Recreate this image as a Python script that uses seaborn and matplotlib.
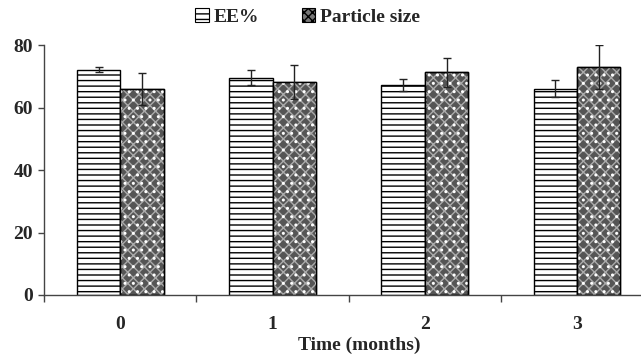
import matplotlib
matplotlib.use("Agg")
import matplotlib.pyplot as plt
import seaborn as sns
import pandas as pd
from matplotlib.patches import Patch, Rectangle

months = ["0", "1", "2", "3"]
series = ["EE%", "Particle size"]
ee_values = [72.1, 69.6, 67.3, 66.0]
ee_errors = [0.8, 2.3, 2.0, 2.7]
ps_values = [66.0, 68.1, 71.3, 73.0]
ps_errors = [5.2, 5.5, 4.7, 7.1]
y_ticks = [0, 20, 40, 60, 80]

df = pd.DataFrame({
    "Time": months * 2,
    "Series": [series[0]] * 4 + [series[1]] * 4,
    "Value": ee_values + ps_values,
})

sns.set_style("white")
plt.rcParams["font.family"] = ["Liberation Serif", "DejaVu Serif"]
plt.rcParams["hatch.linewidth"] = 1.0

FS = 14.0
fig = plt.figure(figsize=(6.41, 3.58), dpi=100)
ax = fig.add_axes([0.069, 0.176, 0.931, 0.698])

sns.barplot(data=df, x="Time", y="Value", hue="Series", order=months,
            hue_order=series, errorbar=None, width=0.57, ax=ax,
            palette=["white", "#555555"], legend=False, saturation=1)

errs = [ee_errors, ps_errors]
vals = [ee_values, ps_values]
bars = list(ax.patches)
for s in range(2):
    for i in range(4):
        p = bars[s * 4 + i]
        p.set_edgecolor("black")
        p.set_linewidth(1.0)
        if s == 0:
            p.set_hatch("---")
            p.set_facecolor("white")
        else:
            p.set_facecolor("#555555")
            ov = Rectangle((p.get_x(), p.get_y()), p.get_width(), p.get_height(),
                           fill=False, hatch="xxx", edgecolor="#aaaaaa",
                           linewidth=0, zorder=p.get_zorder() + 0.1)
            ax.add_patch(ov)
            ov3 = Rectangle((p.get_x(), p.get_y()), p.get_width(), p.get_height(),
                            fill=False, hatch="..", edgecolor="white",
                            linewidth=0, zorder=p.get_zorder() + 0.15)
            ax.add_patch(ov3)
            ov2 = Rectangle((p.get_x(), p.get_y()), p.get_width(), p.get_height(),
                            fill=False, edgecolor="black", linewidth=1.0,
                            zorder=p.get_zorder() + 0.2)
            ax.add_patch(ov2)
        cx = p.get_x() + p.get_width() / 2
        ax.errorbar(cx, vals[s][i], yerr=errs[s][i], fmt="none",
                    ecolor="#222222", elinewidth=1.0, capsize=3, capthick=1.0,
                    zorder=5)

ax.set_ylim(0, 80)
ax.set_yticks(y_ticks)
ax.set_xlim(-0.5, 3.42)
ax.set_xticks([-0.5, 0.5, 1.5, 2.5], minor=True)
ax.tick_params(axis="x", which="major", length=0, pad=15)
ax.tick_params(axis="x", which="minor", length=5, direction="out", bottom=True, width=1, color="#444")
ax.tick_params(axis="y", length=4, direction="out", left=True, width=1, color="#444", pad=4)
for lab in ax.get_xticklabels() + ax.get_yticklabels():
    lab.set_fontweight("bold")
    lab.set_fontsize(FS)
ax.set_xlabel("Time (months)", fontsize=FS, fontweight="bold", va="top")
ax.xaxis.set_label_coords(0.528, -0.166)
ax.set_ylabel("")
sns.despine(ax=ax, top=True, right=True)
for sp in ("left", "bottom"):
    ax.spines[sp].set_color("#444")
    ax.spines[sp].set_linewidth(1)
ax.grid(False)

handles = [Patch(facecolor="white", edgecolor="black", hatch="---", linewidth=0.8, label=series[0]),
           Patch(facecolor="#777777", edgecolor="black", hatch="xxxx", linewidth=0.8, label=series[1])]
fig.legend(handles=handles, loc="center", bbox_to_anchor=(0.48, 0.952), ncol=2,
           frameon=False, handlelength=0.7, handleheight=0.7, handletextpad=0.25,
           columnspacing=2.2, prop={"weight": "bold", "size": FS})

fig.savefig("out.png", dpi=100)
